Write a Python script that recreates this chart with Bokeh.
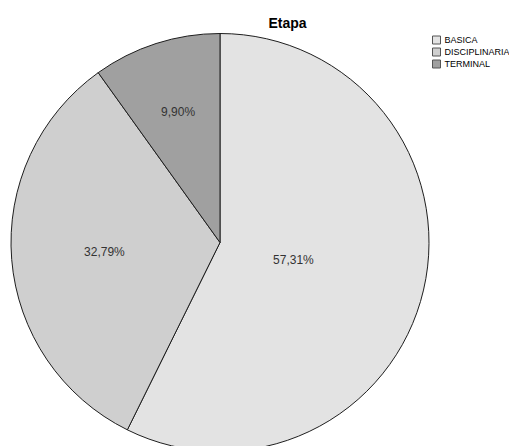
import numpy as np
from bokeh.plotting import figure
from bokeh.models import Range1d, ColumnDataSource
from bokeh.core.properties import value
from bokeh.embed import file_html
from bokeh.resources import INLINE

# Chart data
chart_title = "Etapa"
categories = ["BASICA", "DISCIPLINARIA", "TERMINAL"]
percentages = [57.31, 32.79, 9.90]
colors = ["#e3e3e3", "#cfcfcf", "#a0a0a0"]

# Canvas and pie geometry (pixel-sized data space, y pointing up)
W, H = 509, 446
CX, CY, R = 219.5, H - 242, 209
FONT = "Liberation Sans"

frac = np.array(percentages) / sum(percentages)
cum = np.concatenate([[0.0], np.cumsum(frac)])
# slices run clockwise starting at 12 o'clock
start = np.pi / 2 - 2 * np.pi * cum[1:]
end = np.pi / 2 - 2 * np.pi * cum[:-1]
mid = (start + end) / 2
half = (end - start) / 2
# label sits at the centroid of each slice
dist = 2 * R * np.sin(half) / (3 * half)
labels = [f"{v:.2f}%".replace(".", ",") for v in percentages]

src = ColumnDataSource(dict(
    cat=categories, color=colors, start=start, end=end,
    lx=CX + dist * np.cos(mid), ly=CY + dist * np.sin(mid), label=labels,
))

p = figure(width=W, height=H, output_backend="svg", toolbar_location=None,
           x_range=Range1d(0, W), y_range=Range1d(0, H),
           x_axis_location=None, y_axis_location=None, min_border=0)
p.grid.visible = False
p.outline_line_color = None
p.background_fill_color = "white"
p.border_fill_color = "white"

p.wedge(x=CX, y=CY, radius=R, start_angle="start", end_angle="end",
        fill_color="color", line_color="#1e1e1e", line_width=1, source=src)

p.text(x="lx", y="ly", text="label", source=src, text_align="center",
       text_baseline="middle", text_font=value(FONT),
       text_font_size="12px", text_color="#333333")

# title
p.text(x=[287], y=[H - 22.5], text=[chart_title], text_align="center",
       text_baseline="middle", text_font=value(FONT), text_font_size="14px",
       text_font_style="bold", text_color="black")

# legend in the upper right corner
LX, LY0, STEP = 436, H - 39.5, 12
ly = LY0 - STEP * np.arange(len(categories))
leg = ColumnDataSource(dict(y=ly, cat=categories, color=colors))
p.rect(x=LX, y="y", width=8, height=8, fill_color="color",
       line_color="#555555", line_width=1, source=leg)
p.text(x=LX + 8, y="y", text="cat", source=leg, text_align="left",
       text_baseline="middle", text_font=value(FONT), text_font_size="9px",
       text_color="black")

open("out.html", "w").write(file_html(p, INLINE))
